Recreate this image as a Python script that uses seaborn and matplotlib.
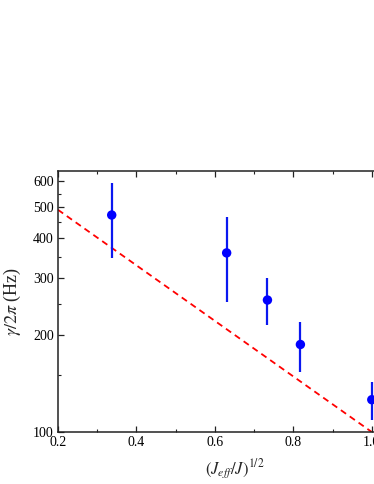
import numpy as np
import pandas as pd
import matplotlib
matplotlib.use("Agg")
import matplotlib.pyplot as plt
import seaborn as sns
from matplotlib.ticker import FixedLocator, NullFormatter

# data
x_vals = [0.337, 0.630, 0.734, 0.818, 1.0]
gamma = [472, 360, 257, 187, 126]
err_hi = [593, 466, 301, 220, 143]
err_lo = [347, 254, 215, 154, 109]

line_x = [0.2, 1.0]
line_y = [490, 100]

y_major = [100, 200, 300, 400, 500, 600]
y_minor = [150, 250, 350, 450, 550]
x_major = [0.2, 0.4, 0.6, 0.8, 1.0]
x_minor = [0.3, 0.5, 0.7, 0.9, 1.1]

sns.set_theme(style="ticks")
plt.rcParams['font.family'] = ['Liberation Serif', 'DejaVu Serif']
plt.rcParams['mathtext.fontset'] = 'stix'

df = pd.DataFrame({'x': x_vals, 'g': gamma})

fig = plt.figure(figsize=(3.74, 4.84), dpi=100)
ax = fig.add_axes([0.155, 0.1074, 0.944, 0.539])

sns.lineplot(x=line_x, y=line_y, ax=ax, color='red', linestyle=(0, (3.5, 2.5)),
             linewidth=1.3, zorder=2)
yerr = np.array([np.array(gamma) - np.array(err_lo), np.array(err_hi) - np.array(gamma)])
ax.errorbar(x_vals, gamma, yerr=yerr, fmt='none', ecolor='#0a18f0', elinewidth=1.6,
            capsize=0, zorder=3)
sns.scatterplot(data=df, x='x', y='g', ax=ax, color='#0000ff', s=46,
                edgecolor='none', zorder=4)

ax.set_yscale('log')
ax.set_xlim(0.2, 1.1)
ax.set_ylim(100, 646)
ax.yaxis.set_major_locator(FixedLocator(y_major))
ax.yaxis.set_minor_locator(FixedLocator(y_minor))
ax.yaxis.set_minor_formatter(NullFormatter())
ax.set_yticklabels([str(v) for v in y_major])
ax.xaxis.set_major_locator(FixedLocator(x_major))
ax.xaxis.set_minor_locator(FixedLocator(x_minor))
ax.set_xticklabels([f"{v:.1f}" for v in x_major])

ax.tick_params(which='both', direction='in', top=True, right=True,
               labelsize=10, colors='#222222', labelcolor='black', pad=3)
ax.tick_params(which='major', length=4, width=0.9)
ax.tick_params(which='minor', length=2.5, width=0.8)
for s in ax.spines.values():
    s.set_linewidth(1.1)
    s.set_color('#222222')

ax.set_xlabel(r'$(J_{eff}/J)^{1/2}$', fontsize=12, labelpad=6)
ax.set_ylabel(r'$\gamma/2\pi$ (Hz)', fontsize=13, labelpad=7)

fig.savefig('out.png', dpi=100)
